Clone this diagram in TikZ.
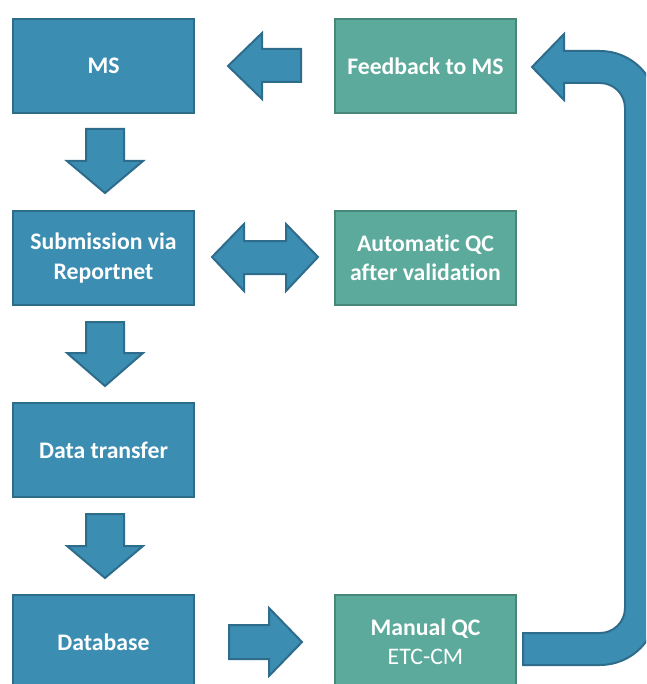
\documentclass[tikz,border=0pt]{standalone}
\usepackage{fontspec}
\setmainfont[Ligatures=NoCommon]{Carlito}
\definecolor{bfill}{RGB}{60,141,178}
\definecolor{bline}{RGB}{46,108,140}
\definecolor{gfill}{RGB}{91,170,155}
\definecolor{gline}{RGB}{70,135,120}
\begin{document}
\begin{tikzpicture}[x=0.75pt,y=-0.75pt,
  bbox/.style={draw=bline,fill=bfill,line width=1.5pt,minimum width=135.75pt,minimum height=70.5pt,inner sep=0pt,text=white,font=\fontsize{17.8}{22}\selectfont\bfseries,align=center},
  gbox/.style={bbox,draw=gline,fill=gfill},
  barrow/.style={draw=bline,fill=bfill,line width=1.5pt,line join=miter}]
\useasboundingbox (0,0) rectangle (646,684);
\clip (0,0) rectangle (646,684);
% boxes
\node[bbox] (ms)  at (103.5,66)  {MS};
\node[gbox] (fb)  at (425.5,66)  {Feedback to MS};
\node[bbox] (sub) at (103.5,258) {Submission via\\Reportnet};
\node[gbox] (aqc) at (425.5,258) {Automatic QC\\after validation};
\node[bbox] (dt)  at (103.5,450) {Data transfer};
\node[bbox] (db)  at (103.5,642) {Database};
\node[gbox] (mqc) at (425.5,642) {Manual QC\\\mdseries ETC-CM};
% left arrow feedback -> MS
\draw[barrow] (228,66) -- (262,33) -- (262,49) -- (301,49) -- (301,82) -- (262,82) -- (262,99) -- cycle;
% double arrow
\draw[barrow] (212,257) -- (244,224) -- (244,241) -- (286,241) -- (286,224) -- (318,257) -- (286,291) -- (286,274) -- (244,274) -- (244,291) -- cycle;
% down arrows
\foreach \t/\h/\e in {129/161/193, 322/353/386, 514/546/578}{
  \draw[barrow] (86,\t) -- (124,\t) -- (124,\h) -- (143,\h) -- (105,\e) -- (67,\h) -- (86,\h) -- cycle;
}
% right arrow database -> manual QC
\draw[barrow] (229,625) -- (269,625) -- (269,608) -- (302,642) -- (269,676) -- (269,659) -- (229,659) -- cycle;
% curved return arrow
\draw[barrow] (532,67) -- (564,34) -- (564,51) -- (600,51)
  .. controls (631.5,51) and (657,76.5) .. (657,108)
  -- (657,608)
  .. controls (657,639.5) and (631.5,665) .. (600,665)
  -- (523,665) -- (523,633) -- (600,633)
  .. controls (613.8,633) and (625,621.8) .. (625,608)
  -- (625,108)
  .. controls (625,94.2) and (613.8,83) .. (600,83)
  -- (564,83) -- (564,100) -- cycle;
\end{tikzpicture}
\end{document}
